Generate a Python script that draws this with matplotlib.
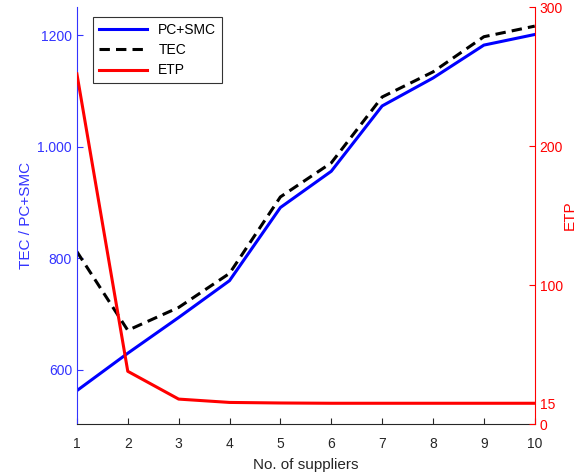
import matplotlib
matplotlib.use("Agg")
import matplotlib.pyplot as plt
from matplotlib.ticker import FixedLocator, FixedFormatter

plt.rcParams['font.family'] = ['Liberation Sans', 'DejaVu Sans']

suppliers = [1, 2, 3, 4, 5, 6, 7, 8, 9, 10]
pc_smc = [563, 630, 694, 760, 891, 956, 1073, 1123, 1182, 1201]
tec = [812, 671, 712, 773, 910, 971, 1089, 1134, 1197, 1216]
etp = [252, 38, 18, 15.6, 15.2, 15, 15, 15, 15, 15]

left_ticks = [600, 800, 1000, 1200]
left_labels = ['600', '800', '1.000', '1200']
right_ticks = [0, 15, 100, 200, 300]
right_labels = ['0', '15', '100', '200', '300']

BLUE = '#0000ff'
BLUE_TXT = '#3333ff'
RED = '#ff0000'

fig = plt.figure(figsize=(5.87, 4.76), dpi=100)
ax = fig.add_axes([0.131, 0.109, 0.78, 0.876])
ax2 = ax.twinx()

l1, = ax.plot(suppliers, pc_smc, color=BLUE, lw=2.2, label='PC+SMC')
l2, = ax.plot(suppliers, tec, color='black', lw=2.2, ls=(0, (3.4, 2.0)), label='TEC')
l3, = ax2.plot(suppliers, etp, color=RED, lw=2.2, label='ETP')

ax.set_xlim(1, 10)
ax.set_ylim(503, 1250)
ax2.set_ylim(0, 300)

ax.set_xticks(suppliers)
ax.yaxis.set_major_locator(FixedLocator(left_ticks))
ax.yaxis.set_major_formatter(FixedFormatter(left_labels))
ax2.yaxis.set_major_locator(FixedLocator(right_ticks))
ax2.yaxis.set_major_formatter(FixedFormatter(right_labels))

for a in (ax, ax2):
    a.spines['top'].set_visible(False)
ax.spines['right'].set_visible(False)
ax2.spines['left'].set_visible(False)
ax2.spines['bottom'].set_visible(False)
ax.spines['left'].set_color(BLUE_TXT)
ax.spines['bottom'].set_color('#262626')
ax2.spines['right'].set_color(RED)

ax.tick_params(axis='x', direction='in', colors='#262626', labelsize=10, length=4, pad=9)
ax.tick_params(axis='y', direction='in', colors=BLUE_TXT, labelsize=10, length=4)
ax2.tick_params(axis='y', direction='in', colors=RED, labelsize=10, length=4)

ax.set_xlabel('No. of suppliers', fontsize=11, color='#262626', labelpad=5)
ax.set_ylabel('TEC / PC+SMC', fontsize=11, color=BLUE_TXT, labelpad=3)
ax2.set_ylabel('ETP', fontsize=11, color=RED, labelpad=0)

leg = ax2.legend(handles=[l1, l2, l3], loc='upper left', bbox_to_anchor=(0.02, 0.992),
                 fontsize=10, frameon=True, fancybox=False, edgecolor='black',
                 handlelength=3.5, borderpad=0.4, labelspacing=0.45, handletextpad=0.8)
leg.get_frame().set_linewidth(0.8)

fig.savefig('out.png', dpi=100)
